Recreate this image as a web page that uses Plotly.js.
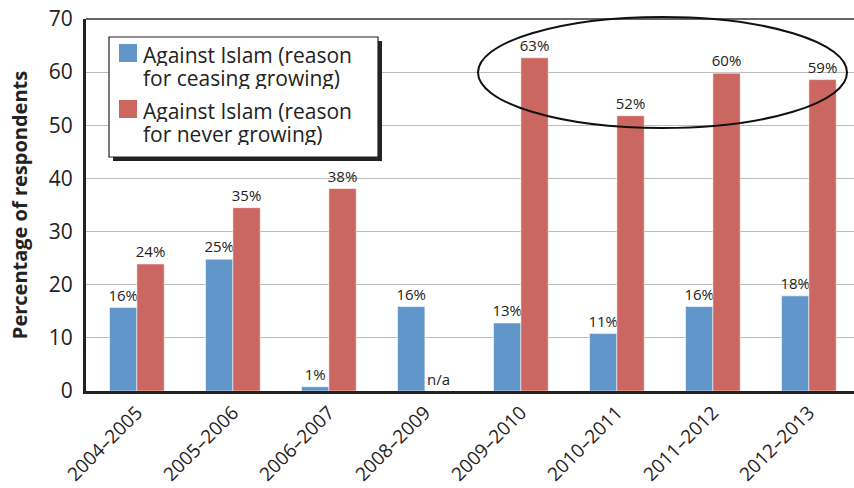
<!DOCTYPE html>
<html>
<head>
<meta charset="utf-8">
<script src="https://cdn.plot.ly/plotly-3.0.1.min.js"></script>
<style>html,body{margin:0;padding:0;background:#fff;}#chart{width:854px;height:488px;}</style>
</head>
<body>
<div id="chart"></div>
<script>
const categories = ['2004–2005','2005–2006','2006–2007','2008–2009','2009–2010','2010–2011','2011–2012','2012–2013'];
const ceasingValues = [15.7, 24.8, 0.8, 15.9, 12.8, 10.8, 15.9, 17.9];
const ceasingLabels = ['16%','25%','1%','16%','13%','11%','16%','18%'];
const neverValues = [23.9, 34.5, 38.1, null, 62.7, 51.8, 59.8, 58.6];
const neverLabels = ['24%','35%','38%','','63%','52%','60%','59%'];
const seriesNames = ['Against Islam (reason for ceasing growing)', 'Against Islam (reason for never growing)'];
const legendLines = [['Against Islam (reason', 'for ceasing growing)'], ['Against Islam (reason', 'for never growing)']];
const naLabel = 'n/a';
const naCategory = '2008–2009';

const blue = '#6096c9', red = '#cc6660';
const FONT = 'Open Sans, Noto Sans, sans-serif';

// layout geometry (pixels)
const W = 854, H = 488, ML = 86, MR = 0, MT = 19, MB = 97;
const PW = W - ML - MR, PH = H - MT - MB;
const px = x => (x - ML) / PW;
const py = y => (H - MB - y) / PH;

const traces = [
  {type:'bar', x:categories, y:ceasingValues, name:seriesNames[0], text:ceasingLabels,
   textposition:'outside', cliponaxis:false, constraintext:'none',
   textfont:{family:FONT, size:15, color:'#222'},
   marker:{color:blue, line:{color:'rgba(255,255,255,0.55)', width:1}}, hoverinfo:'x+y'},
  {type:'bar', x:categories, y:neverValues, name:seriesNames[1], text:neverLabels,
   textposition:'outside', cliponaxis:false, constraintext:'none',
   textfont:{family:FONT, size:15, color:'#222'},
   marker:{color:red, line:{color:'rgba(255,255,255,0.55)', width:1}}, hoverinfo:'x+y'}
];

const legL = 109, legT = 37, legR = 378, legB = 157;
const shapes = [
  {type:'line', xref:'paper', yref:'paper', x0:0, x1:1, y0:1, y1:1, line:{color:'#333', width:1.5}},
  {type:'rect', xref:'paper', yref:'paper', x0:px(legL+4), x1:px(legR+4), y0:py(legB+4), y1:py(legT+4),
   fillcolor:'#222', line:{width:0}},
  {type:'rect', xref:'paper', yref:'paper', x0:px(legL), x1:px(legR), y0:py(legB), y1:py(legT),
   fillcolor:'#fff', line:{color:'#222', width:1.2}},
  {type:'rect', xref:'paper', yref:'paper', x0:px(119), x1:px(137), y0:py(62), y1:py(44), fillcolor:blue, line:{width:0}},
  {type:'rect', xref:'paper', yref:'paper', x0:px(119), x1:px(137), y0:py(118), y1:py(100), fillcolor:red, line:{width:0}},
  {type:'circle', xref:'paper', yref:'paper', x0:px(478), x1:px(847), y0:py(128), y1:py(17),
   line:{color:'#111', width:2}, fillcolor:'rgba(0,0,0,0)'}
];

const legendMid = [[55, 78], [111, 134]];
const annotations = [];
legendLines.forEach((lines, i) => lines.forEach((t, j) => annotations.push(
  {xref:'paper', yref:'paper', x:px(141), y:py(legendMid[i][j]), xanchor:'left', yanchor:'middle', align:'left',
   height:22, valign:'middle',
   text:t, showarrow:false, font:{family:FONT, size:21, color:'#222'}})));
annotations.push({xref:'x', yref:'y', x:naCategory, y:0, xshift:14, yanchor:'bottom', yshift:0,
   text:naLabel, showarrow:false, font:{family:FONT, size:15, color:'#222'}});

const layout = {
  width:W, height:H,
  margin:{l:ML, r:MR, t:MT, b:MB, pad:0},
  paper_bgcolor:'#fff', plot_bgcolor:'#fff',
  showlegend:false,
  barmode:'group', bargap:0.43, bargroupgap:0,
  font:{family:FONT, color:'#222'},
  xaxis:{type:'category', range:[-0.53, 7.47], tickangle:-45, tickfont:{family:FONT, size:19, color:'#222'},
         showline:true, linecolor:'#222', linewidth:3, ticks:'', showgrid:false, zeroline:false, automargin:false},
  yaxis:{range:[0,70], dtick:10, tickfont:{family:FONT, size:21, color:'#222'},
         showline:true, linecolor:'#222', linewidth:3, ticks:'', ticklabelstandoff:6,
         showgrid:true, gridcolor:'#bdbdbd', gridwidth:1, zeroline:false,
         title:{text:'<b>Percentage of respondents</b>', font:{family:FONT, size:20, color:'#222'}, standoff:16}},
  shapes:shapes, annotations:annotations
};

Plotly.newPlot('chart', traces, layout, {displayModeBar:false, staticPlot:true});
</script>
</body>
</html>
